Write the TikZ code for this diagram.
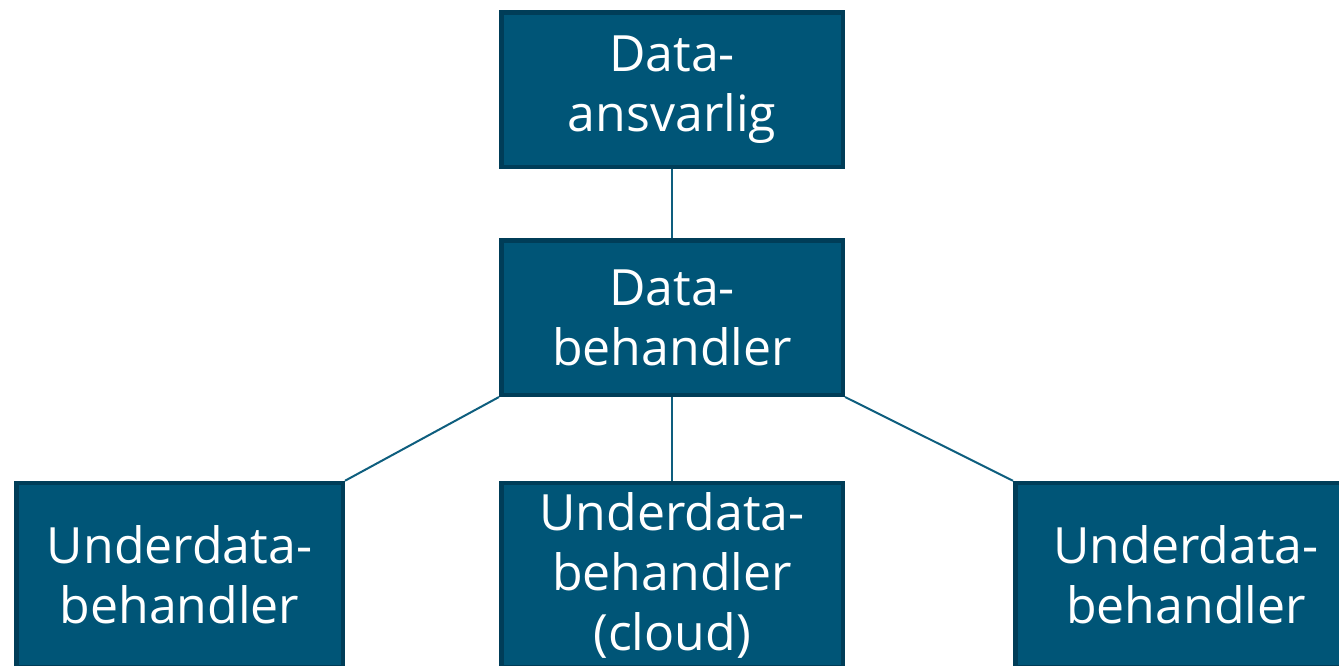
\documentclass[tikz,border=0pt]{standalone}
\usepackage{fontspec}
\setmainfont{Open Sans}
\usepackage{tikz}
\usetikzlibrary{positioning}
\definecolor{BoxFill}{HTML}{005577}
\definecolor{BoxEdge}{HTML}{003D58}
\definecolor{LinkBlue}{HTML}{0E5E7E}

\tikzset{
  box/.style={draw=BoxEdge, fill=BoxFill, line width=2.25pt, text=white,
    align=center, inner sep=0pt, minimum width=170.75pt, minimum height=77.25pt,
    font=\fontsize{25}{30}\selectfont},
  link/.style={draw=LinkBlue, line width=1pt}
}

\begin{document}
\begin{tikzpicture}[x=0.5pt, y=-0.5pt]
  \useasboundingbox (0,0) rectangle (1339,665);
  \clip (0,0) rectangle (1339,665);

  \node [box] (ansvarlig) at (672,89.5) {Data-\\ansvarlig};
  \node [box] (behandler) at (672,317.5) {Data-\\behandler};

  % the three sub-processors run off the bottom edge
  \node [box, minimum width=163.25pt, minimum height=92pt] (subleft) at (179.5,575) {Underdata-\\behandler};
  \node [box, minimum height=92pt] (subcloud) at (672,575) {Underdata-\\behandler\\(cloud)};
  \node [box, minimum height=92pt] (subright) at (1186,575) {Underdata-\\behandler};

  \draw [link] (ansvarlig.south) -- (behandler.north);
  \draw [link] (behandler.south west) -- (subleft.north east);
  \draw [link] (behandler.south) -- (subcloud.north);
  \draw [link] (behandler.south east) -- (subright.north west);
\end{tikzpicture}
\end{document}
